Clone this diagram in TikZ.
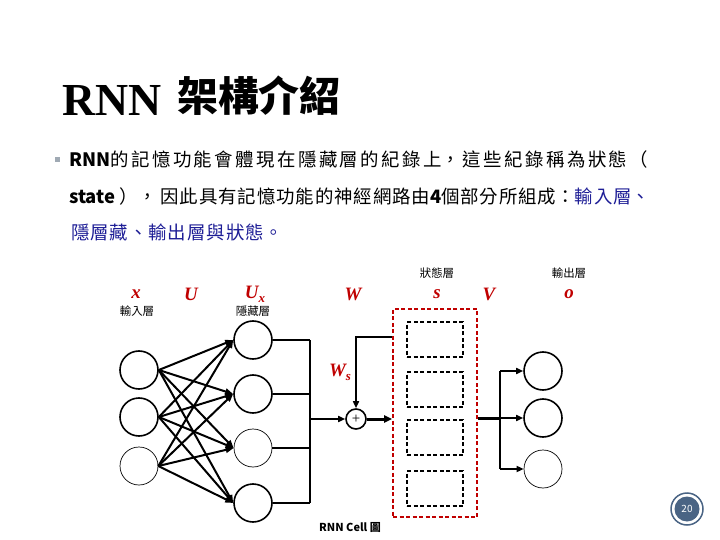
\documentclass[tikz,border=0pt]{standalone}
\usepackage{fontspec}
\setmainfont{Liberation Serif}
\newfontfamily\cjk{Noto Sans CJK TC}
\newfontfamily\cjkbody[LetterSpace=5]{Noto Sans CJK TC}
\usetikzlibrary{arrows.meta}
\definecolor{lblred}{RGB}{192,0,0}
\definecolor{txtblue}{RGB}{30,30,150}
\definecolor{pgblue}{RGB}{74,100,132}
\definecolor{bulgray}{RGB}{160,170,180}
\newcommand\jline[2]{\parbox[b]{#1}{\XeTeXlinebreaklocale "zh"\XeTeXlinebreakskip=0pt plus 1fil\relax\parindent=0pt\parfillskip=0pt\relax #2\par}}
\tikzset{
  neuron/.style={circle,draw,line width=1.6bp,minimum size=38bp,inner sep=0pt},
  thinneuron/.style={circle,draw,line width=0.7bp,minimum size=38bp,inner sep=0pt},
  conn/.style={line width=2bp,-{Triangle[length=8bp,width=6bp]}},
  wire/.style={line width=1.6bp},
  arr/.style={line width=1.6bp,-{Triangle[length=7bp,width=6bp]}},
  thickarr/.style={line width=3bp,-{Triangle[length=8bp,width=7bp]}},
  redbox/.style={draw=lblred,dashed,dash pattern=on 4bp off 2.5bp,line width=1.6bp,inner sep=0pt},
  cellbox/.style={draw,dash pattern=on 4bp off 2.5bp,line width=1.4bp,inner sep=0pt,minimum width=56bp,minimum height=35bp},
  redlbl/.style={text=lblred,font=\fontsize{19}{19}\selectfont\bfseries\itshape,inner sep=0pt},
  smlbl/.style={font=\cjk\fontsize{11.5}{12}\selectfont,inner sep=0pt},
  body/.style={anchor=base west,inner sep=0pt,font=\cjk\fontsize{18.5}{20}\selectfont},
  bodyls/.style={anchor=base west,inner sep=0pt,font=\cjkbody\fontsize{18.5}{20}\selectfont}
}
\begin{document}
\begin{tikzpicture}[x=1bp,y=-1bp]
\useasboundingbox (0,0) rectangle (720,540);
% title
\node[anchor=base west,inner sep=0pt,font=\fontsize{46}{46}\selectfont\bfseries] (ttl) at (62,116) {RNN};
\node[anchor=base west,inner sep=0pt,font=\cjk\fontsize{41}{41}\selectfont\bfseries] (ttl2) at (177,112) {架構介紹};
% bullet text
\node[fill=bulgray,minimum size=5bp,inner sep=0pt] (bul) at (57,160) {};
\node[body] (l1) at (69,167) {\jline{579bp}{{\bfseries RNN}的記憶功能會體現在隱藏層的紀錄上，這些紀錄稱為狀態（}};
\node[body] (l2) at (69,204) {\jline{581bp}{{\bfseries state} ）， 因此具有記憶功能的神經網路由{\bfseries 4}個部分所組成：\textcolor{txtblue}{輸入層、}}};
\node[bodyls,text=txtblue] (l3) at (71,240) {隱層藏、輸出層與狀態。};
% labels
\node[redlbl] (lx) at (136,294) {x};
\node[smlbl] (lxin) at (137,311) {輸入層};
\node[redlbl] (lu) at (191,294) {U};
\node[redlbl] (lux) at (255,294) {U\raisebox{-4bp}{\fontsize{13}{13}\selectfont x}};
\node[smlbl] (lhid) at (253,311) {隱藏層};
\node[redlbl] (lw) at (353,294) {W};
\node[smlbl] (lst) at (437,273) {狀態層};
\node[redlbl] (ls) at (437,294) {s};
\node[redlbl] (lv) at (489,294) {V};
\node[smlbl] (lout) at (569,273) {輸出層};
\node[redlbl] (lo) at (569,294) {o};
\node[redlbl] (lws) at (340,372) {W\raisebox{-4bp}{\fontsize{13}{13}\selectfont s}};
% input layer
\node[neuron] (i1) at (139,370) {};
\node[neuron] (i2) at (139,417) {};
\node[thinneuron] (i3) at (139,466) {};
% hidden layer
\node[neuron] (h1) at (253,340) {};
\node[neuron] (h2) at (253,394) {};
\node[thinneuron] (h3) at (253,448) {};
\node[neuron] (h4) at (253,503) {};
\foreach \i in {1,2,3}{
  \foreach \h in {1,2,3,4}{
    \draw[conn] (i\i.east) -- (h\h.west);
  }
}
% junction
\coordinate (jm) at (310,419);
\foreach \h in {1,2,3,4}{
  \draw[wire] (h\h.east) -- (h\h.east -| jm);
}
\draw[wire] (h1.east -| jm) -- (h4.east -| jm);
% plus node
\node[circle,draw,line width=1.6bp,minimum size=20bp,inner sep=0pt,font=\fontsize{15}{15}\selectfont] (p) at (356,419) {+};
\draw[arr] (jm) -- (p.west);
% state box
\node[redbox,minimum width=84bp,minimum height=208bp] (st) at (435,413) {};
\node[cellbox] (b1) at (435,339.5) {};
\node[cellbox] (b2) at (435,389.5) {};
\node[cellbox] (b3) at (435,437.5) {};
\node[cellbox] (b4) at (435,488.5) {};
\draw[thickarr] (p.east) -- (st.west |- p.east);
% recurrent loop
\coordinate (wc) at (356,337);
\draw[arr] (wc -| st.west) -- (wc) -- (p.north);
% output layer
\node[neuron] (o1) at (543,371) {};
\node[neuron] (o2) at (543,418) {};
\node[thinneuron] (o3) at (543,469) {};
\coordinate (oj) at (500,418);
\draw[line width=3bp] (st.east |- oj) -- (oj);
\draw[wire] (oj |- o1) -- (oj |- o3);
\draw[arr] (oj |- o1) -- (o1.west);
\draw[arr] (oj) -- (o2.west);
\draw[arr] (oj |- o3) -- (o3.west);
% caption
\node[font=\cjk\fontsize{11}{12}\selectfont\bfseries,inner sep=0pt] (cap) at (350,527) {RNN Cell 圖};
% page number
\node[circle,draw=pgblue,line width=1.5bp,minimum size=32bp,inner sep=0pt] (pgo) at (687,509) {};
\node[circle,fill=pgblue,minimum size=25bp,inner sep=0pt,text=white,font=\cjk\fontsize{10}{10}\selectfont] (pg) at (687,509) {20};
\end{tikzpicture}
\end{document}
